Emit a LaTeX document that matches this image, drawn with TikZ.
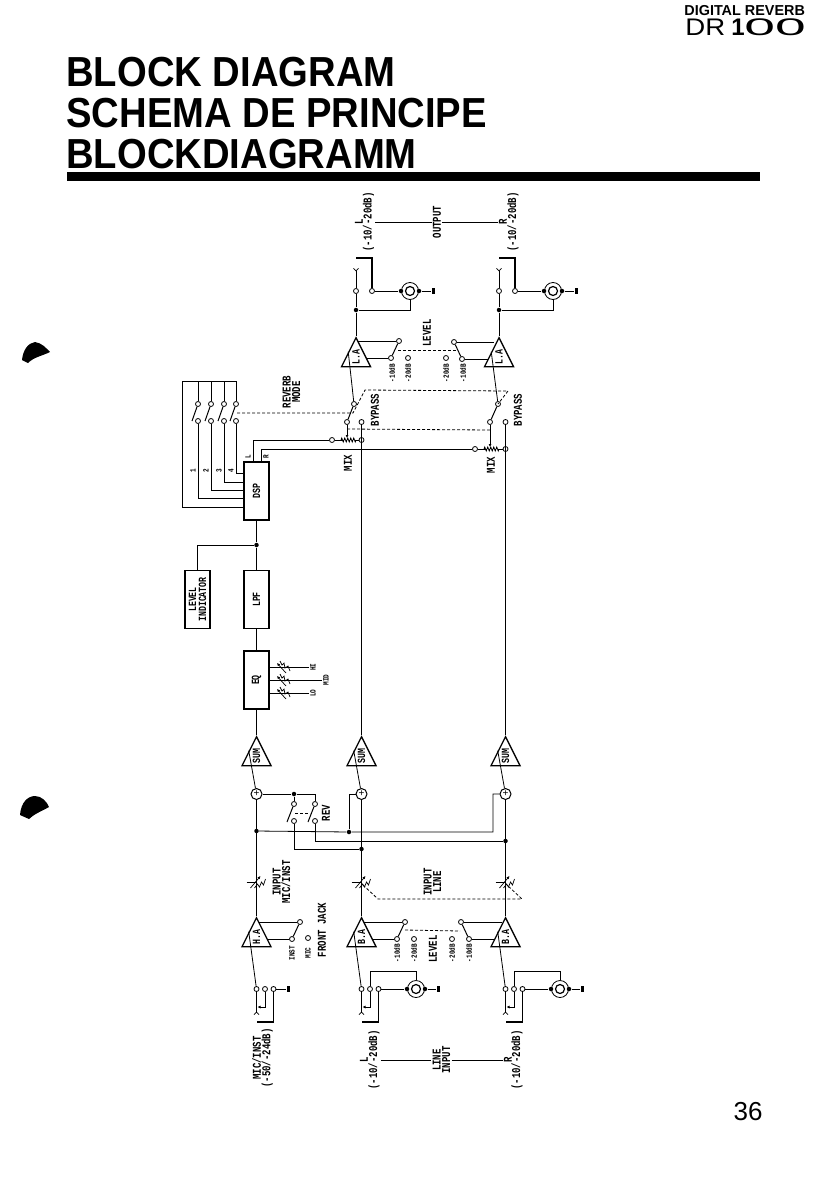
\documentclass[tikz,border=0pt]{standalone}
\usepackage{fontspec}
\setmainfont{Liberation Sans}
\newfontfamily\labelfont[FakeStretch=0.75]{Liberation Mono}
\newfontfamily\titlefont[FakeStretch=0.91]{Liberation Sans}
\usetikzlibrary{positioning, arrows.meta, shapes.geometric, decorations.pathmorphing}

\begin{document}
\begin{tikzpicture}[
    x=1pt, y=-1pt,
    line width=0.8pt,
    box/.style={
        draw,
        rotate=90,
        line width=1.3pt,
        minimum width=58pt,
        minimum height=25pt,
        inner sep=0pt,
        align=center,
        font=\labelfont\bfseries\fontsize{11}{10}\selectfont
    },
    tri/.style={
        draw,
        isosceles triangle,
        isosceles triangle stretches,
        shape border rotate=90,
        anchor=apex,
        minimum width=29pt,
        minimum height=29pt,
        inner sep=0pt,
        line width=1.3pt,
        font=\labelfont\bfseries\fontsize{11}{10}\selectfont
    },
    term/.style={circle, draw, fill=white, inner sep=0pt, minimum size=5pt},
    dot/.style={circle, fill, inner sep=0pt, minimum size=4.5pt},
    jack/.style={circle, draw, inner sep=0pt, minimum size=17pt},
    jackin/.style={circle, draw, line width=1.2pt, inner sep=0pt, minimum size=9pt},
    gnd/.style={fill, inner sep=0pt, minimum width=3pt, minimum height=6pt},
    adder/.style={circle, draw, line width=1pt, inner sep=0pt, minimum size=11pt, font=\fontsize{10}{10}\selectfont},
    lbl/.style={rotate=90, inner sep=1pt, align=center, font=\labelfont\bfseries\fontsize{12}{9.5}\selectfont},
    lblsmall/.style={rotate=90, inner sep=1pt, font=\labelfont\bfseries\fontsize{8}{8}\selectfont},
    title/.style={anchor=base west, inner sep=0pt, font=\titlefont\bfseries\fontsize{42}{42}\selectfont},
    gang/.style={dashed, dash pattern=on 3pt off 2pt},
    arrow/.style={-{Latex[length=3pt,width=3pt]}},
    vtip/.style={-{Straight Barb[reversed,length=2.5pt,width=5pt]}},
    potmix/.pic={\draw[decorate, decoration={zigzag,segment length=3pt,amplitude=2pt}] (-6,0) -- (9,0);},
    potdiag/.pic={
        \draw[line width=0.7pt] (-3,-6) -- (-1,-2) -- (1,-4) -- (2,1) -- (5,-1) -- (7,4);
        \draw[arrow, line width=0.7pt] (3,6) -- (-6,-4);
    },
    potin/.pic={
        \draw (-10,0) -- (0,0);
        \draw[arrow, line width=0.7pt] (-6,6) -- (4,-6);
        \draw[line width=0.7pt] (-2,6) -- (1,2) -- (3,5) -- (5,0) -- (7,3) -- (9,-3);
    }
]
\useasboundingbox (0,0) rectangle (837,1178);

% page heading
\node[anchor=base west, inner sep=0pt, font=\bfseries\fontsize{14.4}{14}\selectfont] (brand) at (684,15) {DIGITAL REVERB};
\node[anchor=base west, inner sep=0pt, font=\fontsize{24}{24}\selectfont] (logodr) at (685,35) {\scalebox{1.15}[1]{DR}};
\node[anchor=base west, inner sep=0pt, font=\bfseries\fontsize{24}{24}\selectfont] (logonum) at (731,35) {1};
\node[anchor=base west, inner sep=0pt, font=\fontsize{24}{24}\selectfont] (logozero) at (744,35) {\scalebox{2.3}[1]{0}\scalebox{2.3}[1]{0}};
\node[title] (title1) at (66,86) {BLOCK DIAGRAM};
\node[title] (title2) at (66,127) {SCHEMA DE PRINCIPE};
\node[title] (title3) at (66,168) {BLOCKDIAGRAMM};
\fill (67,172) rectangle (760,181);
\node[font=\fontsize{26}{26}\selectfont, inner sep=0pt] (page) at (748,1112) {36};

% punch marks of the scan
\fill (22,360) .. controls (23,350) and (28,343) .. (35,342) .. controls (42,343) and (46,348) .. (50,352) .. controls (42,356) and (34,357) .. (28,363) -- cycle;
\fill (20,815) .. controls (21,802) and (28,796) .. (35,796) .. controls (42,796) and (47,802) .. (49,807) .. controls (42,811) and (34,814) .. (29,819) -- cycle;

% output jacks
\foreach \ch/\dx in {l/0, r/143} {
    \node[term] (out\ch-tip) at (356+\dx,291) {};
    \node[term] (out\ch-sl) at (372+\dx,291) {};
    \node[jack] (out\ch-rca) at (410+\dx,291) {};
    \node[jackin] (out\ch-in) at (410+\dx,291) {};
    \node[gnd] (out\ch-gnd) at (433+\dx,291) {};
    \node[dot] (out\ch-dot) at (356+\dx,310) {};
    \node[dot] (out\ch-a) at (401+\dx,291) {};
    \node[dot] (out\ch-b) at (419+\dx,291) {};
    \coordinate (out\ch-v) at (356+\dx,268);
    \coordinate (out\ch-brk) at (356+\dx,258);
    \node[tri] (la\ch) at (356+\dx,336) {\rotatebox{90}{L.A}};
    \draw (out\ch-sl) -- (out\ch-a);
    \draw (out\ch-b) -- (out\ch-gnd);
    \draw[line width=1.1pt] (out\ch-sl) |- (out\ch-brk);
    \draw[vtip] (out\ch-tip) -- (out\ch-v);
    \draw (out\ch-dot) -- (out\ch-tip);
    \draw (out\ch-dot) -- (la\ch.apex);
    \draw (out\ch-dot) -| (out\ch-rca);
}

% output labels
\node[lbl] (outlab-l) at (359,222) {L};
\node[lbl] (outdb-l) at (368.5,222) {(-10/-20dB)};
\node[lbl] (outlab) at (437,222) {OUTPUT};
\node[lbl] (outlab-r) at (503,222) {R};
\node[lbl] (outdb-r) at (513,222) {(-10/-20dB)};
\draw (outdb-l) -- (outlab);
\draw (outlab) -- (outlab-r);

% output level switches
\node[term] (lvl-la) at (399,341) {};
\node[term] (lvl-lb) at (391,358) {};
\node[term] (lvl-lc) at (408,358) {};
\node[term] (lvl-ra) at (454,342) {};
\node[term] (lvl-rb) at (462,359) {};
\node[term] (lvl-rc) at (446,358) {};
\coordinate (lvl-lm) at (398,350);
\coordinate (lvl-rm) at (457,350);
\draw (358,341) -- (lvl-la);
\draw (366,358) -- (lvl-lb);
\draw (lvl-ra) -- (494,342);
\draw (lvl-rb) -- (488,359);
\draw[line width=1pt] (lvl-la) -- (lvl-lb);
\draw[line width=1pt] (lvl-ra) -- (lvl-rb);
\draw[gang] (lvl-lm) -- (lvl-rm);
\node[lblsmall] (lab-la) at (392,373) {-10dB};
\node[lblsmall] (lab-lb) at (408,373) {-20dB};
\node[lblsmall] (lab-ra) at (446,373) {-20dB};
\node[lblsmall] (lab-rb) at (463,373) {-10dB};
\node[lbl] (lab-lvl) at (427,333) {LEVEL};

% bypass and mix
\node[term] (byp-lt) at (354,404) {};
\node[term] (byp-lw) at (347,422) {};
\node[term] (byp-lc) at (361.5,422) {};
\node[term] (mix-la) at (332,440) {};
\node[term] (mix-lb) at (361.5,440) {};
\node[term] (byp-rt) at (498,404) {};
\node[term] (byp-rw) at (490,422) {};
\node[term] (byp-rc) at (505.5,422) {};
\node[term] (mix-ra) at (475,449) {};
\node[term] (mix-rb) at (505.5,449) {};
\coordinate (mix-lp) at (347,438);
\coordinate (mix-rp) at (490,447);
\draw (lal.left side) -- (byp-lt);
\draw (lar.left side) -- (byp-rt);
\draw[line width=1pt] (byp-lt) -- (byp-lw);
\draw[line width=1pt] (byp-rt) -- (byp-rw);
\draw[arrow] (byp-lw) -- (mix-lp);
\draw[arrow] (byp-rw) -- (mix-rp);
\draw (mix-la) -- (344,440);
\draw (356,440) -- (mix-lb);
\draw (mix-ra) -- (487,449);
\draw (499,449) -- (mix-rb);
\pic at (347,440) {potmix};
\pic at (490,449) {potmix};
\node[lbl] (lab-bypl) at (375,410) {BYPASS};
\node[lbl] (lab-bypr) at (518,410) {BYPASS};
\node[lbl] (lab-mixl) at (348,463) {MIX};
\node[lbl] (lab-mixr) at (491,465) {MIX};

% mode switches into the processor
\node[box] (dsp) at (256.5,491) {DSP};
\node[lblsmall] (dsp-lab-l) at (248,457) {L};
\node[lblsmall] (dsp-lab-r) at (266,457) {R};
\coordinate (dsp-l) at (253,462);
\coordinate (dsp-r) at (261,462);
\draw (dsp-l) |- (mix-la);
\draw (dsp-r) |- (mix-ra);
\coordinate (busl) at (182,381);
\coordinate (busd) at (244,507);
\foreach \i/\x/\yy in {1/198/498, 2/211/490, 3/224/482, 4/236/473} {
    \node[term] (m\i-t) at (\x,404) {};
    \node[term] (m\i-b) at (\x,421) {};
    \coordinate (m\i-tip) at (\x-6,421);
    \coordinate (m\i-bus) at (\x,381);
    \coordinate (m\i-d) at (244,\yy);
    \draw (m\i-bus) -- (m\i-t);
    \draw[line width=1pt] (m\i-t) -- (m\i-tip);
    \draw (m\i-b) |- (m\i-d);
    \node[lblsmall] (num\i) at (\x-5,471) {\i};
}
\draw (busd) -| (busl) -- (m4-bus);
\node[lbl] (lab-mode) at (291.5,392) {REVERB\\MODE};

% gang links
\coordinate (g1) at (237,413);
\coordinate (g2) at (353,413);
\coordinate (g3) at (365,390);
\coordinate (g4) at (508,391);
\coordinate (g5) at (498,404);
\coordinate (g6) at (347,429);
\coordinate (g7) at (490,430);
\draw[gang] (g1) -- (g2) -- (g3) -- (g4) -- (g5);
\draw[gang] (g6) -- (g7);

% signal path of the reverb
\node[dot] (split) at (256.5,545) {};
\node[box] (ind) at (197.5,599.5) {LEVEL\\INDICATOR};
\node[box] (lpf) at (256.5,599.5) {LPF};
\node[box] (eq) at (256.5,680) {EQ};
\node[tri] (sumc) at (256.5,735) {\rotatebox{90}{SUM}};
\node[tri] (suml) at (361.5,735) {\rotatebox{90}{SUM}};
\node[tri] (sumr) at (505.5,735) {\rotatebox{90}{SUM}};
\draw (lpf.east) -- (split);
\draw[line width=1.2pt] (split) -- (dsp.west);
\draw (split) -| (ind.east);
\draw (lpf.west) -- (eq.east);
\draw (eq.west) -- (sumc.apex);
\draw (byp-lc) -- (suml.apex);
\draw (byp-rc) -- (sumr.apex);
\foreach \nm/\yy/\xx/\txt in {hi/667/313/HI, mid/680/326/MID, lo/693/313/LO} {
    \coordinate (eq-\nm) at (269,\yy);
    \node[lblsmall] (lab-\nm) at (\xx,\yy) {\txt};
    \pic at (283,\yy) {potdiag};
    \draw (eq-\nm) -- (lab-\nm);
}

% adders and rev switch
\node[adder] (addc) at (256.5,794) {+};
\node[adder] (addl) at (361.5,794) {+};
\node[adder] (addr) at (505.5,794) {+};
\node[dot] (rev-dot) at (294,794) {};
\node[term] (rev-at) at (294,804) {};
\node[term] (rev-bt) at (315,804) {};
\node[term] (rev-ab) at (294,821) {};
\node[term] (rev-bb) at (315,821) {};
\node[dot] (in-c) at (256.5,831) {};
\node[dot] (in-m) at (349,832) {};
\node[dot] (in-l) at (361.5,849) {};
\node[dot] (in-r) at (505.5,841) {};
\coordinate (rev-c) at (315,794);
\coordinate (in-e) at (493,832);
\coordinate (rev-atip) at (287,822);
\coordinate (rev-btip) at (308,822);
\draw (sumc.left side) -- (addc);
\draw (suml.left side) -- (addl);
\draw (sumr.left side) -- (addr);
\draw (addc) -- (rev-dot) -- (rev-c) -- (rev-bt);
\draw (rev-dot) -- (rev-at);
\draw[line width=1pt] (rev-at) -- (rev-atip);
\draw[line width=1pt] (rev-bt) -- (rev-btip);
\draw[gang] (295,813) -- (310,813);
\draw (in-c) -- (in-m) -- (in-e) |- (addr);
\draw (in-m) |- (addl);
\draw (rev-ab) |- (in-l);
\draw (rev-bb) |- (in-r);
\node[lbl] (lab-rev) at (326,813) {REV};

% input amplifiers
\node[tri] (hamp) at (256.5,916) {\rotatebox{90}{H.A}};
\node[tri] (bal) at (361.5,916) {\rotatebox{90}{B.A}};
\node[tri] (bar) at (505.5,916) {\rotatebox{90}{B.A}};
\draw (addc) -- (hamp.apex);
\draw (addl) -- (bal.apex);
\draw[line width=1.1pt] (addr) -- (bar.apex);
\pic at (256.5,882) {potin};
\pic at (361.5,882) {potin};
\pic at (505.5,882) {potin};
\draw[gang] (363,885) -- (378,899) -- (522,899) -- (507,885);
\node[lbl] (lab-inpm) at (281.5,882) {INPUT\\MIC/INST};
\node[lbl] (lab-inpl) at (432.5,882) {INPUT\\LINE};

% input level switches
\node[term] (hsw-a) at (300,922) {};
\node[term] (hsw-b) at (292,939) {};
\node[term] (hsw-c) at (308,938) {};
\draw (259,922) -- (hsw-a);
\draw (267,939) -- (hsw-b);
\draw[line width=1pt] (hsw-a) -- (hsw-b);
\node[lblsmall] (lab-inst) at (292,953) {INST};
\node[lblsmall] (lab-mic) at (308,953) {MIC};
\node[lbl] (lab-front) at (322,930) {FRONT JACK};
\node[term] (bsw-la) at (405,922) {};
\node[term] (bsw-lb) at (397,939) {};
\node[term] (bsw-lc) at (414,939) {};
\node[term] (bsw-ra) at (461,922) {};
\node[term] (bsw-rb) at (469,939) {};
\node[term] (bsw-rc) at (452,939) {};
\draw (364,922) -- (bsw-la);
\draw (372,939) -- (bsw-lb);
\draw (bsw-ra) -- (502,922);
\draw (bsw-rb) -- (494,939);
\draw[line width=1pt] (bsw-la) -- (bsw-lb);
\draw[line width=1pt] (bsw-ra) -- (bsw-rb);
\draw[gang] (405,930) -- (460,931);
\node[lblsmall] (lab-bla) at (397,953) {-10dB};
\node[lblsmall] (lab-blb) at (414,953) {-20dB};
\node[lblsmall] (lab-bra) at (452,953) {-20dB};
\node[lblsmall] (lab-brb) at (469,953) {-10dB};
\node[lbl] (lab-blvl) at (433,949) {LEVEL};

% input jacks
\foreach \ch/\x in {hamp/256.5, bal/361.5, bar/505.5} {
    \node[term] (\ch-tip) at (\x,989) {};
    \node[term] (\ch-mid) at (\x+8.5,989) {};
    \node[term] (\ch-sl) at (\x+17,989) {};
    \coordinate (\ch-v) at (\x,1015);
    \coordinate (\ch-p) at (\x+1,1007);
    \coordinate (\ch-brk) at (\x,1022);
    \draw (\ch.left side) -- (\ch-tip);
    \draw[vtip] (\ch-tip) -- (\ch-v);
    \draw[arrow] (\ch-mid) |- (\ch-p);
    \draw[line width=1.1pt] (\ch-sl) |- (\ch-brk);
}
\node[gnd] (hamp-gnd) at (288,989) {};
\draw (hamp-sl) -- (hamp-gnd);
\foreach \ch/\dx in {bal/0, bar/144} {
    \node[jack] (\ch-rca) at (416+\dx,989) {};
    \node[jackin] (\ch-in) at (416+\dx,989) {};
    \node[gnd] (\ch-gnd) at (438+\dx,989) {};
    \node[dot] (\ch-a) at (407+\dx,989) {};
    \node[dot] (\ch-b) at (425+\dx,989) {};
    \coordinate (\ch-c) at (416+\dx,971);
    \draw (\ch-sl) -- (\ch-a);
    \draw (\ch-b) -- (\ch-gnd);
    \draw (\ch-mid) |- (\ch-c) -- (\ch-rca);
}

% input labels
\node[lbl] (lab-micin) at (262.5,1058) {MIC/INST\\(-50/-24dB)};
\node[lbl] (inlab-l) at (364,1060) {L};
\node[lbl] (indb-l) at (374,1060) {(-10/-20dB)};
\node[lbl] (inlab) at (441.5,1060) {LINE\\INPUT};
\node[lbl] (inlab-r) at (508,1060) {R};
\node[lbl] (indb-r) at (517,1060) {(-10/-20dB)};
\draw (indb-l) -- (inlab);
\draw (inlab) -- (inlab-r);

\end{tikzpicture}
\end{document}
